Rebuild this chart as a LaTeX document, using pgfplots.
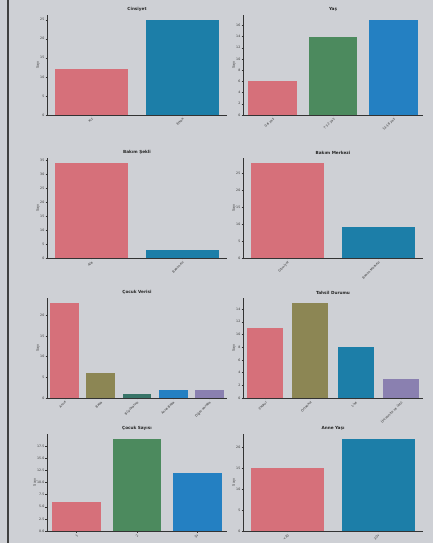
\documentclass[border=0pt]{standalone}
\usepackage{fontspec}
\setmainfont{DejaVu Sans}
\usepackage{pgfplots}
\pgfplotsset{compat=1.18}
\definecolor{bgc}{RGB}{206,208,213}
\definecolor{cpink}{RGB}{214,112,122}
\definecolor{cblue}{RGB}{28,126,168}
\definecolor{cblueb}{RGB}{36,128,194}
\definecolor{cgreen}{RGB}{76,138,94}
\definecolor{colive}{RGB}{140,134,84}
\definecolor{cteal}{RGB}{56,116,104}
\definecolor{cpurple}{RGB}{138,128,176}
\pgfplotsset{
  sub/.style={
    scale only axis, width=180pt, height=100pt,
    anchor=north west,
    axis lines*=left,
    axis line style={black!80, line width=0.4pt},
    ymin=0,
    ybar, bar width=0.8, bar shift=0pt,
    tick align=outside, major tick length=1.5pt,
    tick style={black!80, line width=0.3pt},
    ytick pos=left, xtick pos=bottom,
    tick label style={font=\fontsize{3.2}{3.8}\selectfont, text=black!80},
    /pgf/number format/assume math mode=true,
    xticklabel style={rotate=45, anchor=north east, inner sep=0.8pt},
    yticklabel style={inner sep=1pt},
    ylabel={Sayı},
    ylabel style={font=\fontsize{3.4}{4}\selectfont, text=black!80, yshift=-4pt},
    title style={font=\bfseries\fontsize{4.2}{5}\selectfont, text=black!85, yshift=-4pt, inner sep=1pt},
    every axis plot/.append style={draw=none},
  }
}
\begin{document}
\begin{tikzpicture}
\useasboundingbox (0,0) rectangle (433pt,543pt);
\fill[bgc] (0,0) rectangle (433pt,543pt);
\fill[black!75] (7pt,0) rectangle (9pt,543pt);

% Row 1
\begin{axis}[sub, at={(47pt,528pt)}, title={Cinsiyet},
  xmin=-0.49, xmax=1.49, xtick={0,1}, xticklabels={Kız,Erkek},
  ymax=26.25, ytick={0,5,...,25}]
\addplot[fill=cpink] coordinates {(0,12)};
\addplot[fill=cblue] coordinates {(1,25)};
\end{axis}
\begin{axis}[sub, at={(243pt,528pt)}, title={Yaş},
  xmin=-0.49, xmax=2.49, xtick={0,1,2}, xticklabels={0-6 yaş,7-12 yaş,13-18 yaş},
  ymax=17.85, ytick={0,2,...,16}]
\addplot[fill=cpink] coordinates {(0,6)};
\addplot[fill=cgreen] coordinates {(1,14)};
\addplot[fill=cblueb] coordinates {(2,17)};
\end{axis}

% Row 2
\begin{axis}[sub, at={(47pt,385pt)}, title={Bakım Şekli},
  xmin=-0.49, xmax=1.49, xtick={0,1}, xticklabels={Aile,Bakımevi},
  ymax=35.7, ytick={0,5,...,35}]
\addplot[fill=cpink] coordinates {(0,34)};
\addplot[fill=cblue] coordinates {(1,3)};
\end{axis}
\begin{axis}[sub, at={(243pt,385pt)}, title={Bakım Merkezi},
  xmin=-0.49, xmax=1.49, xtick={0,1}, xticklabels={Gitmiyor,Bakım Merkezi},
  ymax=29.4, ytick={0,5,...,25}]
\addplot[fill=cpink] coordinates {(0,28)};
\addplot[fill=cblue] coordinates {(1,9)};
\end{axis}

% Row 3
\begin{axis}[sub, at={(47pt,245pt)}, title={Çocuk Verisi},
  xmin=-0.49, xmax=4.49, xtick={0,1,2,3,4},
  xticklabels={Anne,Baba,Büyükanne,Anne-Baba,Diğer akraba},
  ymax=24.15, ytick={0,5,...,20}]
\addplot[fill=cpink] coordinates {(0,23)};
\addplot[fill=colive] coordinates {(1,6)};
\addplot[fill=cteal] coordinates {(2,1)};
\addplot[fill=cblueb] coordinates {(3,2)};
\addplot[fill=cpurple] coordinates {(4,2)};
\end{axis}
\begin{axis}[sub, at={(243pt,245pt)}, title={Tahsil Durumu},
  xmin=-0.49, xmax=3.49, xtick={0,1,2,3},
  xticklabels={İlkokul,Ortaokul,Lise,Üniversite ve üstü},
  ymax=15.75, ytick={0,2,...,14}]
\addplot[fill=cpink] coordinates {(0,11)};
\addplot[fill=colive] coordinates {(1,15)};
\addplot[fill=cblue] coordinates {(2,8)};
\addplot[fill=cpurple] coordinates {(3,3)};
\end{axis}

% Row 4
\begin{axis}[sub, at={(47pt,109pt)}, height=97pt, title={Çocuk Sayısı},
  xmin=-0.49, xmax=2.49, xtick={0,1,2}, xticklabels={1,2,3+},
  ymax=19.95, ytick={0,2.5,...,17.5},
  yticklabel style={/pgf/number format/fixed, /pgf/number format/fixed zerofill, /pgf/number format/precision=1}]
\addplot[fill=cpink] coordinates {(0,6)};
\addplot[fill=cgreen] coordinates {(1,19)};
\addplot[fill=cblueb] coordinates {(2,12)};
\end{axis}
\begin{axis}[sub, at={(243pt,109pt)}, height=97pt, title={Anne Yaşı},
  xmin=-0.49, xmax=1.49, xtick={0,1}, xticklabels={<30,30+},
  ymax=23.1, ytick={0,5,...,20}]
\addplot[fill=cpink] coordinates {(0,15)};
\addplot[fill=cblue] coordinates {(1,22)};
\end{axis}
\end{tikzpicture}
\end{document}
